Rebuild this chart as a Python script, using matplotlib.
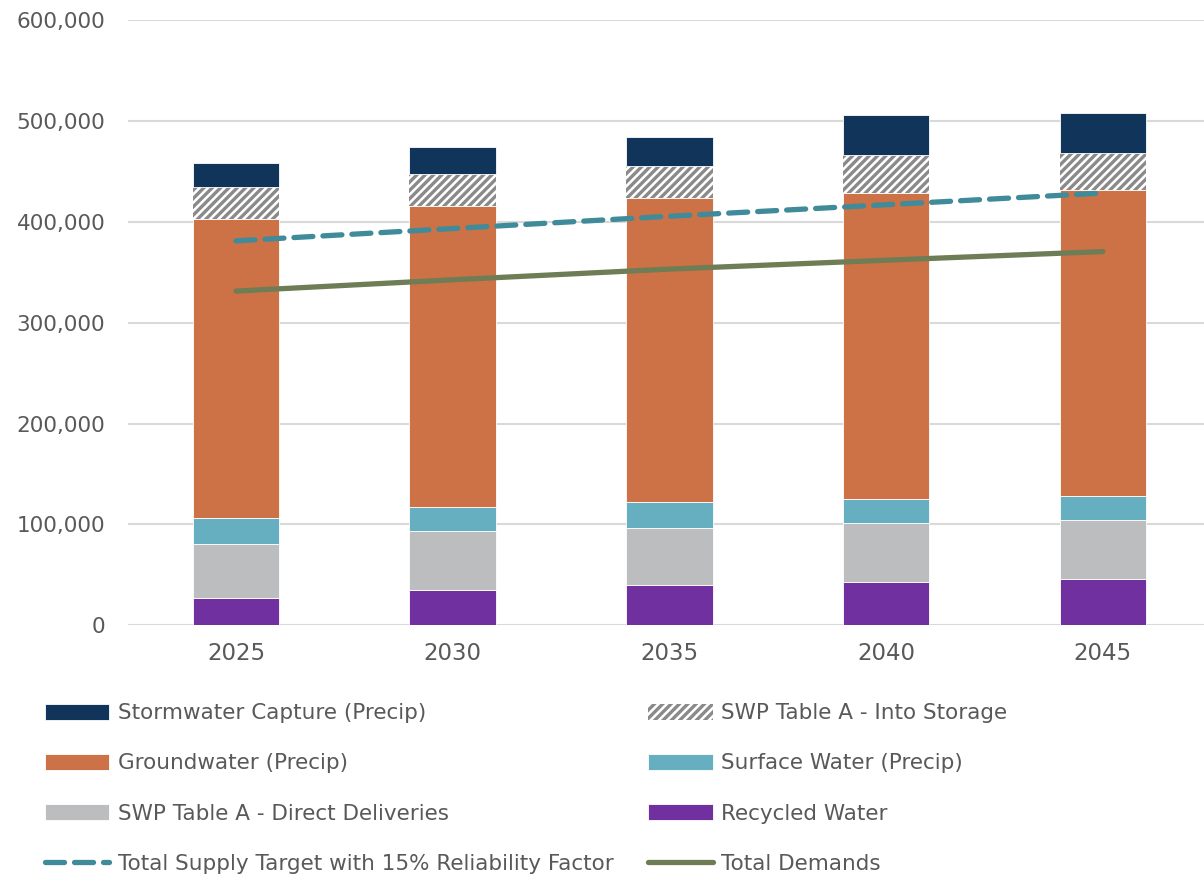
import matplotlib
matplotlib.use('Agg')
import matplotlib.pyplot as plt
import numpy as np

years = ['2025', '2030', '2035', '2040', '2045']
recycled = [27100, 35000, 40300, 43000, 45500]
swp_direct = [53500, 58800, 55700, 58000, 58800]
surface = [25700, 23400, 26500, 23800, 23800]
groundwater = [296400, 298300, 301300, 304200, 303600]
swp_storage = [32000, 32300, 31600, 37300, 36900]
stormwater = [23400, 26200, 29100, 39300, 39600]
supply_target = [381200, 393400, 405600, 417000, 428600]
demands = [331400, 342600, 353200, 362000, 370600]

plt.rcParams['font.family'] = ['DejaVu Sans']
plt.rcParams['hatch.linewidth'] = 2.4
txt = '#595959'

fig = plt.figure(figsize=(12.04, 8.77), dpi=100)
ax = fig.add_axes([0.106, 0.287, 0.9, 0.69])
x = np.arange(len(years))
w = 0.4

bottom = np.zeros(len(years))
stack = [
    (recycled, 'Recycled Water', '#7030a0', None),
    (swp_direct, 'SWP Table A - Direct Deliveries', '#bcbdbf', None),
    (surface, 'Surface Water (Precip)', '#66afc0', None),
    (groundwater, 'Groundwater (Precip)', '#cd7246', None),
    (swp_storage, 'SWP Table A - Into Storage', 'white', '////'),
    (stormwater, 'Stormwater Capture (Precip)', '#10345a', None),
]
h = {}
for vals, lab, col, hatch in stack:
    if hatch:
        b = ax.bar(x, vals, w, bottom=bottom, color=col, edgecolor='#8a8a8a',
                   hatch=hatch, linewidth=0, label=lab, zorder=2)
    else:
        b = ax.bar(x, vals, w, bottom=bottom, color=col, edgecolor='white',
                   linewidth=0.6, label=lab, zorder=2)
    h[lab] = b
    bottom += np.array(vals)

l1, = ax.plot(x, supply_target, color='#3f8b99', lw=3.8, ls=(0, (3.6, 1.9)),
              dash_capstyle='round', solid_capstyle='round', zorder=3,
              label='Total Supply Target with 15% Reliability Factor')
l2, = ax.plot(x, demands, color='#6e7d55', lw=3.8, solid_capstyle='round',
              zorder=3, label='Total Demands')

ax.set_ylim(0, 600000)
ax.set_xlim(-0.5, 4.5)
ax.set_yticks(range(0, 600001, 100000))
ax.set_yticklabels([f'{v:,}' for v in range(0, 600001, 100000)])
ax.set_xticks(x)
ax.set_xticklabels(years)
ax.tick_params(axis='both', length=0, labelsize=15.5, colors=txt)
ax.tick_params(axis='x', pad=12, labelsize=16.5)
ax.tick_params(axis='y', pad=16)
ax.grid(axis='y', color='#d9d9d9', lw=1.5, zorder=0)
for s in ax.spines.values():
    s.set_visible(False)

order = ['Stormwater Capture (Precip)', 'Groundwater (Precip)',
         'SWP Table A - Direct Deliveries']
order2 = ['SWP Table A - Into Storage', 'Surface Water (Precip)', 'Recycled Water']
handles = [h[k] for k in order] + [l1] + [h[k] for k in order2] + [l2]
labels = order + [l1.get_label()] + order2 + [l2.get_label()]
leg = fig.legend(handles, labels, ncol=2, loc='upper left',
                 bbox_to_anchor=(0.037, 0.198),
                 frameon=False, fontsize=15.5, handlelength=3.0, handleheight=0.75,
                 handletextpad=0.4, labelspacing=1.4, borderpad=0, borderaxespad=0,
                 columnspacing=1.6)
for t in leg.get_texts():
    t.set_color(txt)

fig.savefig('out.png', dpi=100)
